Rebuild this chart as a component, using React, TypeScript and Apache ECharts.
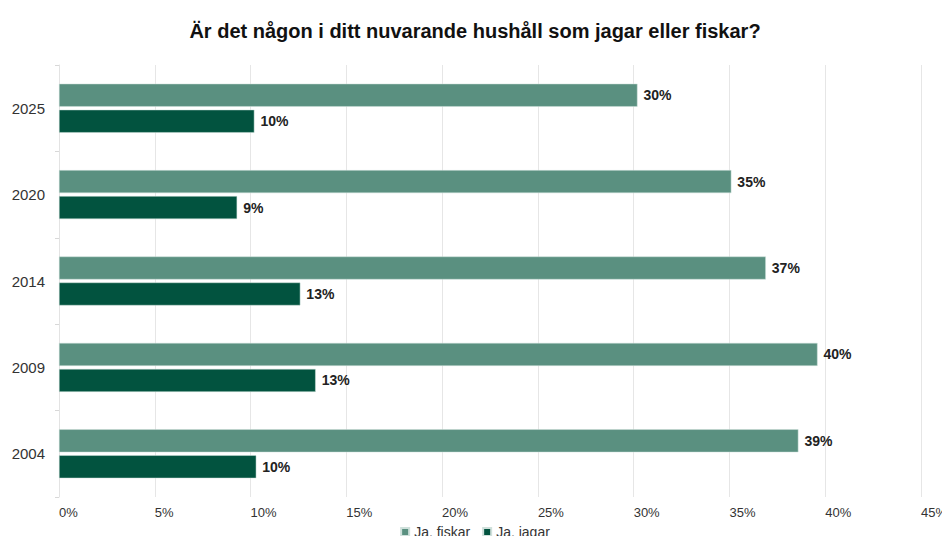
import React, { useEffect, useRef } from "react";
import * as echarts from "echarts";

const title = "Är det någon i ditt nuvarande hushåll som jagar eller fiskar?";
const years = ["2025", "2020", "2014", "2009", "2004"];
const seriesNames = ["Ja, fiskar", "Ja, jagar"];
const fiskar = [30.2, 35.1, 36.9, 39.6, 38.6];
const jagar = [10.2, 9.3, 12.6, 13.4, 10.3];
const colors = ["#5a9080", "#02533f"];

const FONT = "Liberation Sans, Arial, sans-serif";

export default function App() {
  const ref = useRef<HTMLDivElement>(null);
  useEffect(() => {
    if (!ref.current) return;
    const chart = echarts.init(ref.current, undefined, { renderer: "svg" });
    const label = {
      show: true,
      position: "right",
      distance: 6,
      formatter: (p: any) => Math.round(p.value) + "%",
      fontFamily: FONT,
      fontWeight: "bold",
      fontSize: 14,
      color: "#222",
    };
    chart.setOption({
      animation: false,
      backgroundColor: "#fff",
      title: {
        text: title,
        left: "center",
        top: 16,
        textStyle: {
          fontFamily: FONT,
          fontWeight: "bold",
          fontSize: 20,
          color: "#111",
        },
      },
      legend: {
        data: seriesNames,
        top: 525,
        left: "center",
        icon: "rect",
        itemWidth: 8,
        itemHeight: 8,
        itemGap: 12,
        padding: 0,
        textStyle: { fontFamily: FONT, fontSize: 14, color: "#333" },
      },
      grid: { left: 59, right: 25, top: 65, bottom: 47, containLabel: false },
      xAxis: {
        type: "value",
        min: 0,
        max: 45,
        interval: 5,
        axisLine: { show: false },
        axisTick: { show: false },
        splitLine: { show: true, lineStyle: { color: "#e6e6e6", width: 1 } },
        axisLabel: {
          formatter: "{value}%",
          align: "left",
          margin: 9,
          fontFamily: FONT,
          fontSize: 13,
          color: "#333",
        },
      },
      yAxis: {
        type: "category",
        data: years,
        inverse: true,
        axisLine: { show: true, lineStyle: { color: "#e3e3e3" } },
        axisTick: { show: true, length: 4, lineStyle: { color: "#d8d8d8" } },
        axisLabel: {
          margin: 14,
          fontFamily: FONT,
          fontSize: 15,
          color: "#333",
        },
      },
      series: [
        {
          name: seriesNames[0],
          type: "bar",
          data: fiskar,
          itemStyle: { color: colors[0], borderColor: "#cfe0db", borderWidth: 0.5 },
          barWidth: 23,
          barGap: "13%",
          label,
        },
        {
          name: seriesNames[1],
          type: "bar",
          data: jagar,
          itemStyle: { color: colors[1], borderColor: "#cfe0db", borderWidth: 0.5 },
          barWidth: 23,
          label,
        },
      ],
    });
    return () => chart.dispose();
  }, []);
  return <div ref={ref} style={{ width: 950, height: 544, margin: -8 }} />;
}
